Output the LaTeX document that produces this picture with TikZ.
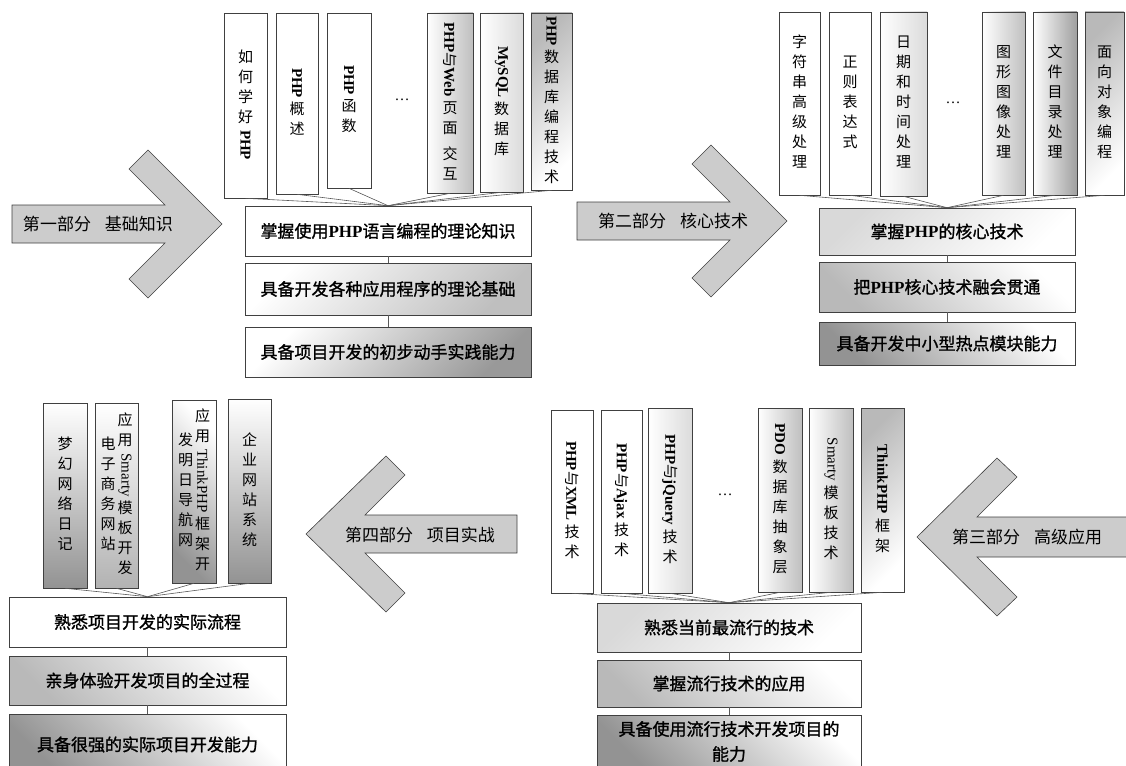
\documentclass[tikz,border=0pt]{standalone}
\usepackage{fontspec}
\usepackage{graphicx}
\setmainfont{Noto Sans CJK SC}
\newfontfamily\cjkheavy{Noto Sans CJK SC}[FakeBold=1.2]
\newfontfamily\latf{Liberation Serif}
\newcommand\latbf[1]{{\latf\bfseries #1}}
\newcommand\latrm[1]{{\latf #1}}
\newcommand\vrot[1]{\raisebox{.8em}{\rotatebox{-90}{#1\hspace{3pt}}}}
\newcommand\vtext[1]{\begin{tabular}[c]{@{}c@{}}#1\end{tabular}}
\newcommand\vfont{\fontsize{15}{20}\selectfont}
\newcommand\hfont{\cjkheavy\fontsize{17}{25}\selectfont}
\newcommand\afont{\fontsize{17}{20}\selectfont}
\begin{document}
\begin{tikzpicture}[x=1pt,y=-1pt,
  vb/.style={draw=black!75, line width=.6pt, inner sep=0pt, font=\vfont, fill=white},
  hb/.style={draw=black!75, line width=.6pt, inner sep=0pt, font=\hfont, fill=white, align=center},
  bigarrow/.style={draw=black!75, line width=.6pt, fill=gray!40, line join=miter},
  atext/.style={font=\afont, inner sep=0pt},
  dots/.style={font=\vfont, inner sep=0pt},
  conn/.style={draw=black!65, line width=.6pt},
  gR/.style={left color=white, right color=gray!50},
  gRl/.style={left color=white, right color=gray!28},
  gRd/.style={left color=white, right color=gray!75},
  gTL/.style={top color=gray!55, bottom color=white, shading angle=45},
  gTLl/.style={top color=gray!30, bottom color=white, shading angle=45},
  gBR/.style={top color=white, bottom color=gray!50, shading angle=45},
  gBRd/.style={top color=white, bottom color=gray!80, shading angle=45},
  gBL/.style={top color=white, bottom color=gray!55, shading angle=-45},
  gBLd/.style={top color=white, bottom color=gray!85, shading angle=-45},
  gVB/.style={top color=white, middle color=white!85!gray, bottom color=gray!60},
  gVBd/.style={top color=white, middle color=white!80!gray, bottom color=gray!85},
]
\useasboundingbox (0,0) rectangle (1126,765);
\clip (0,0) rectangle (1126,765);
\fill[white] (0,0) rectangle (1126,765);

% ---------- big arrows ----------
\draw[bigarrow] (12,205) -- (165,205) -- (129,169) -- (148,150) -- (222,224) -- (148,298) -- (129,279) -- (165,243) -- (12,243) -- cycle;
\node[atext] (a1) at (98,224) {第一部分\hspace{14pt}基础知识};

\draw[bigarrow] (577,202) -- (730,202) -- (692,164) -- (711,145) -- (787,221) -- (711,297) -- (692,278) -- (730,240) -- (577,240) -- cycle;
\node[atext] (a2) at (673,221) {第二部分\hspace{14pt}核心技术};

\draw[bigarrow] (1140,517) -- (977,517) -- (1017,477) -- (997,458) -- (917,537) -- (997,616) -- (1017,597) -- (977,557) -- (1140,557) -- cycle;
\node[atext] (a3) at (1027,537) {第三部分\hspace{14pt}高级应用};

\draw[bigarrow] (517,515) -- (365,515) -- (405,475) -- (386,456) -- (306,534) -- (386,612) -- (405,593) -- (365,553) -- (517,553) -- cycle;
\node[atext] (a4) at (420,535) {第四部分\hspace{14pt}项目实战};

% ---------- part 1 ----------
\node[vb, minimum width=43pt, minimum height=185pt] (t1) at (245.5,105.5) {\vtext{如\\何\\学\\好\\\vrot{\latbf{PHP}}}};
\node[vb, minimum width=42pt, minimum height=181pt] (t2) at (297,103.5) {\vtext{\vrot{\latbf{PHP}}\\概\\述}};
\node[vb, minimum width=44pt, minimum height=175pt] (t3) at (349,100.5) {\vtext{\vrot{\latbf{PHP}}\\函\\数}};
\node[dots] (tdots) at (402,100) {\latf …};
\node[vb, gR, minimum width=46pt, minimum height=180pt] (t4) at (450,103) {\vtext{\vrot{\latbf{PHP}与\latbf{Web}}\\页\\面\\[6pt]交\\互}};
\node[vb, gRl, minimum width=43pt, minimum height=179pt] (t5) at (501.5,102.5) {\vtext{\vrot{\latbf{MySQL}}\\数\\据\\库}};
\node[vb, gTL, minimum width=41pt, minimum height=177pt] (t6) at (551.5,101.5) {\vtext{\vrot{\latbf{PHP}}\\数\\据\\库\\编\\程\\技\\术}};

\node[hb, minimum width=286pt, minimum height=50pt] (ta) at (388,231) {掌握使用\latbf{PHP}语言编程的理论知识};
\node[hb, gBR, minimum width=286pt, minimum height=52pt] (tb) at (388,289) {具备开发各种应用程序的理论基础};
\node[hb, gBRd, minimum width=286pt, minimum height=50pt] (tc) at (388,352) {具备项目开发的初步动手实践能力};

\foreach \n in {t1,t2,t3,t4,t5,t6} \draw[conn] (\n.south) -- (ta.north);
\draw[conn] (ta.south) -- (tb.north);
\draw[conn] (tb.south) -- (tc.north);

% ---------- part 2 ----------
\node[vb, minimum width=41pt, minimum height=183pt] (r1) at (799.5,103.5) {\vtext{字\\符\\串\\高\\级\\处\\理}};
\node[vb, minimum width=42pt, minimum height=183pt] (r2) at (850,103.5) {\vtext{正\\则\\表\\达\\式}};
\node[vb, gRl, minimum width=47pt, minimum height=184pt] (r3) at (903.5,104) {\vtext{日\\期\\和\\时\\间\\处\\理}};
\node[dots] (rdots) at (953,103) {\latf …};
\node[vb, gR, minimum width=43pt, minimum height=183pt] (r4) at (1003.5,103.5) {\vtext{图\\形\\图\\像\\处\\理}};
\node[vb, gRd, minimum width=44pt, minimum height=183pt] (r5) at (1055,103.5) {\vtext{文\\件\\目\\录\\处\\理}};
\node[vb, gTL, minimum width=39pt, minimum height=183pt] (r6) at (1104.5,103.5) {\vtext{面\\向\\对\\象\\编\\程}};

\node[hb, gTLl, minimum width=256pt, minimum height=47pt] (ra) at (947,231.5) {掌握\latbf{PHP}的核心技术};
\node[hb, gBL, minimum width=256pt, minimum height=50pt] (rb) at (947,287) {把\latbf{PHP}核心技术融会贯通};
\node[hb, gBLd, minimum width=256pt, minimum height=43pt] (rc) at (947,343.5) {具备开发中小型热点模块能力};

\foreach \n in {r1,r2,r3,r4,r5,r6} \draw[conn] (\n.south) -- (ra.north);
\draw[conn] (ra.south) -- (rb.north);
\draw[conn] (rb.south) -- (rc.north);

% ---------- part 3 ----------
\node[vb, minimum width=42pt, minimum height=183pt] (b1) at (572,501.5) {\vtext{\vrot{\latbf{PHP}与\latbf{XML}}\\技\\术}};
\node[vb, minimum width=41pt, minimum height=183pt] (b2) at (621.5,501.5) {\vtext{\vrot{\latbf{PHP}与\latbf{Ajax}}\\技\\术}};
\node[vb, gRl, minimum width=44pt, minimum height=185pt] (b3) at (670,500.5) {\vtext{\vrot{\latbf{PHP}与\latbf{jQuery}}\\技\\术}};
\node[dots] (bdots) at (725,495) {\latf …};
\node[vb, gR, minimum width=44pt, minimum height=184pt] (b4) at (780,500) {\vtext{\vrot{\latbf{PDO}}\\数\\据\\库\\抽\\象\\层}};
\node[vb, gR, minimum width=44pt, minimum height=184pt] (b5) at (831,500) {\vtext{\vrot{\latrm{Smarty}}\\模\\板\\技\\术}};
\node[vb, gTL, minimum width=43pt, minimum height=184pt] (b6) at (882.5,500) {\vtext{\vrot{\latbf{ThinkPHP}}\\框\\架}};

\node[hb, gTLl, minimum width=264pt, minimum height=49pt] (ba) at (729,627.5) {熟悉当前最流行的技术};
\node[hb, gBL, minimum width=264pt, minimum height=47pt] (bb) at (729,683.5) {掌握流行技术的应用};
\node[hb, gBLd, minimum width=264pt, minimum height=53pt] (bc) at (729,741.5) {具备使用流行技术开发项目的\\能力};

\foreach \n in {b1,b2,b3,b4,b5,b6} \draw[conn] (\n.south) -- (ba.north);
\draw[conn] (ba.south) -- (bb.north);
\draw[conn] (bb.south) -- (bc.north);

% ---------- part 4 ----------
\node[vb, gVBd, minimum width=44pt, minimum height=185pt] (l1) at (65,495.5) {\vtext{梦\\幻\\网\\络\\日\\记}};
\node[vb, gVB, minimum width=43pt, minimum height=185pt] (l2) at (116.5,495.5) {\vtext{电\\子\\商\\务\\网\\站}\hspace{2pt}\vtext{应\\用\\\vrot{\latrm{Smarty}}\\模\\板\\开\\发}};
\node[vb, gBLd, minimum width=44pt, minimum height=183pt] (l3) at (194,491.5) {\vtext{发\\明\\日\\导\\航\\网}\hspace{2pt}\vtext{应\\用\\\vrot{\latrm{ThinkPHP}}\\框\\架\\开}};
\node[vb, gVBd, minimum width=43pt, minimum height=184pt] (l4) at (249.5,491) {\vtext{企\\业\\网\\站\\系\\统}};

\node[hb, minimum width=277pt, minimum height=50pt] (la) at (147.5,622) {熟悉项目开发的实际流程};
\node[hb, gBL, minimum width=277pt, minimum height=49pt] (lb) at (147.5,680.5) {亲身体验开发项目的全过程};
\node[hb, gBLd, minimum width=277pt, minimum height=61pt] (lc) at (147.5,744.5) {具备很强的实际项目开发能力};

\foreach \n in {l1,l2,l3,l4} \draw[conn] (\n.south) -- (la.north);
\draw[conn] (la.south) -- (lb.north);
\draw[conn] (lb.south) -- (lc.north);
\end{tikzpicture}
\end{document}
